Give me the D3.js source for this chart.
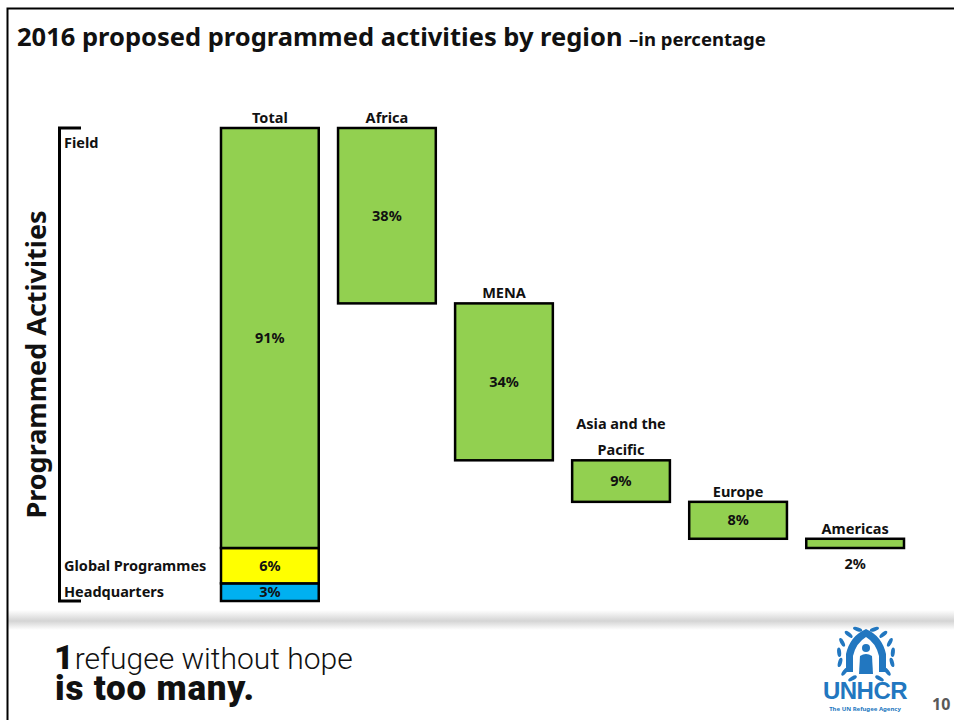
<!DOCTYPE html>
<html lang="en">
<head>
    <meta charset="UTF-8">
    <title>2016 proposed programmed activities by region</title>
    <script src="https://d3js.org/d3.v7.min.js"></script>
    <style>
        body {
            margin: 0;
            background: #fff;
            font-family: "Noto Sans", "Open Sans", sans-serif;
        }
        svg text {
            font-weight: bold;
            fill: #111;
        }
        .bar {
            stroke: #000;
            stroke-width: 2.5;
        }
    </style>
</head>
<body>
    <svg id="chart"></svg>

    <script>
        // data
        var categories = ["Total", "Africa", "MENA", "Asia and the Pacific", "Europe", "Americas"];
        var regions = ["Africa", "MENA", "Asia and the Pacific", "Europe", "Americas"];
        var regionValues = [38, 34, 9, 8, 2];
        var totalParts = ["Headquarters", "Global Programmes", "Field"];
        var totalValues = [3, 6, 91];

        var width = 954, height = 720;

        var svg = d3.select("#chart")
            .attr("width", width)
            .attr("height", height);

        // slide frame
        var defs = svg.append("defs");
        var grad = defs.append("linearGradient")
            .attr("id", "band").attr("x1", 0).attr("y1", 0).attr("x2", 0).attr("y2", 1);
        grad.append("stop").attr("offset", "0%").attr("stop-color", "#fff");
        grad.append("stop").attr("offset", "55%").attr("stop-color", "#d4d4d4");
        grad.append("stop").attr("offset", "100%").attr("stop-color", "#fff");

        svg.append("rect")
            .attr("x", 8).attr("y", 610).attr("width", width - 8).attr("height", 20)
            .attr("fill", "url(#band)");

        svg.append("path")
            .attr("d", "M7.5,720V8.5H954")
            .attr("fill", "none")
            .attr("stroke", "#000")
            .attr("stroke-width", 2);

        // title
        var title = svg.append("text")
            .attr("x", 17).attr("y", 46);
        title.append("tspan").attr("font-size", 25.5).text("2016 proposed programmed activities by region ");
        title.append("tspan").attr("font-size", 18.5).text("–in percentage");

        // scales
        var x = d3.scaleBand()
            .domain(categories)
            .range([221, 904])
            .paddingInner(0.165)
            .paddingOuter(0);

        // the field part is drawn to scale, the two small HQ parts share the base
        var y = d3.scaleLinear()
            .domain([0, 9, 100])
            .range([601, 548, 128]);

        var color = d3.scaleOrdinal()
            .domain(totalParts)
            .range(["#00b0f0", "#ffff00", "#92d050"]);

        // stacked total
        var stack = [];
        var acc = 0;
        totalParts.forEach(function(p, i) {
            stack.push({name: p, y0: acc, y1: acc + totalValues[i], value: totalValues[i]});
            acc += totalValues[i];
        });

        // waterfall of regions, starting from the top of the total
        var water = [];
        var level = acc;
        regions.forEach(function(r, i) {
            water.push({name: r, y0: level - regionValues[i], y1: level, value: regionValues[i]});
            level -= regionValues[i];
        });

        var g = svg.append("g");

        g.selectAll(".total")
            .data(stack)
            .enter().append("rect")
            .attr("class", "bar total")
            .attr("x", x("Total"))
            .attr("y", function(d) { return y(d.y1); })
            .attr("width", x.bandwidth())
            .attr("height", function(d) { return y(d.y0) - y(d.y1); })
            .attr("fill", function(d) { return color(d.name); });

        g.selectAll(".region")
            .data(water)
            .enter().append("rect")
            .attr("class", "bar region")
            .attr("x", function(d) { return x(d.name); })
            .attr("y", function(d) { return y(d.y1); })
            .attr("width", x.bandwidth())
            .attr("height", function(d) { return y(d.y0) - y(d.y1); })
            .attr("fill", color("Field"));

        // value labels
        g.selectAll(".tval")
            .data(stack)
            .enter().append("text")
            .attr("x", x("Total") + x.bandwidth() / 2)
            .attr("y", function(d) { return (y(d.y0) + y(d.y1)) / 2 + 5; })
            .attr("text-anchor", "middle")
            .attr("font-size", 14.5)
            .text(function(d) { return d.value + "%"; });

        g.selectAll(".rval")
            .data(water)
            .enter().append("text")
            .attr("x", function(d) { return x(d.name) + x.bandwidth() / 2; })
            .attr("y", function(d) {
                var h = y(d.y0) - y(d.y1);
                return h < 20 ? y(d.y0) + 21 : (y(d.y0) + y(d.y1)) / 2 + 5;
            })
            .attr("text-anchor", "middle")
            .attr("font-size", 14.5)
            .text(function(d) { return d.value + "%"; });

        // category labels above the bars
        var heads = [{name: "Total", top: 100}].concat(water.map(function(d) { return {name: d.name, top: d.y1}; }));
        heads.forEach(function(d) {
            var lines = d.name === "Asia and the Pacific" ? ["Asia and the", "Pacific"] : [d.name];
            var t = g.append("text")
                .attr("x", x(d.name) + x.bandwidth() / 2)
                .attr("y", y(d.top) - 5 - (lines.length - 1) * 26)
                .attr("text-anchor", "middle")
                .attr("font-size", 14.5);
            lines.forEach(function(l, i) {
                t.append("tspan")
                    .attr("x", x(d.name) + x.bandwidth() / 2)
                    .attr("dy", i ? 26 : 0)
                    .text(l);
            });
        });

        // bracket on the left
        svg.append("path")
            .attr("d", "M81," + y(100) + "H59.5V" + y(0) + "H81")
            .attr("fill", "none")
            .attr("stroke", "#000")
            .attr("stroke-width", 3);

        svg.append("text")
            .attr("x", 64).attr("y", y(100) + 20)
            .attr("font-size", 14.5)
            .text("Field");

        svg.selectAll(".plabel")
            .data(stack.filter(function(d) { return d.name !== "Field"; }))
            .enter().append("text")
            .attr("x", 64)
            .attr("y", function(d) { return (y(d.y0) + y(d.y1)) / 2 + 5; })
            .attr("font-size", 14.5)
            .text(function(d) { return d.name; });

        svg.append("text")
            .attr("transform", "translate(46," + (y(100) + y(0)) / 2 + ") rotate(-90)")
            .attr("text-anchor", "middle")
            .attr("font-size", 27)
            .text("Programmed Activities");

        // footer slogan
        var s1 = svg.append("text")
            .attr("x", 54).attr("y", 669)
            .style("font-family", "Roboto, 'Liberation Sans', sans-serif");
        s1.append("tspan").attr("font-size", 34).style("font-weight", 900).text("1");
        s1.append("tspan").attr("font-size", 30).style("font-weight", 300).attr("dx", 1).text("refugee without hope");
        svg.append("text")
            .attr("x", 55).attr("y", 700)
            .style("font-family", "Roboto, 'Liberation Sans', sans-serif")
            .style("font-weight", 900)
            .attr("font-size", 35)
            .attr("letter-spacing", 0.8)
            .text("is too many.");

        // UNHCR logo (simplified)
        var logo = svg.append("g").attr("fill", "#2277c0").attr("stroke", "none");
        logo.append("path")
            .attr("d", "M846,672 L846,654 Q850,636 866,629 Q882,636 886,654 L886,672 L879,672 L879,656 Q876,643 866,637 Q856,643 853,656 L853,672 Z");
        logo.append("circle").attr("cx", 866).attr("cy", 648).attr("r", 4);
        logo.append("path")
            .attr("d", "M859,674 L860,656 Q866,652 872,656 L873,674 Z");
        [-1, 1].forEach(function(side) {
            for (var k = 0; k < 7; k++) {
                var a = (-60 + k * 22) * Math.PI / 180;
                var cx = 866 + side * 27 * Math.cos(a);
                var cy = 655 - 27 * Math.sin(a);
                logo.append("ellipse")
                    .attr("cx", cx).attr("cy", cy)
                    .attr("rx", 2).attr("ry", 4.8)
                    .attr("transform", "rotate(" + (side * (k * 22 - 60)) + "," + cx + "," + cy + ")");
            }
        });
        logo.append("text")
            .attr("x", 865).attr("y", 699)
            .attr("text-anchor", "middle")
            .attr("font-size", 24)
            .attr("letter-spacing", -0.5)
            .style("fill", "#2277c0")
            .style("font-family", "'Liberation Sans', sans-serif")
            .style("font-weight", 900)
            .text("UNHCR");
        logo.append("text")
            .attr("x", 865).attr("y", 711)
            .attr("text-anchor", "middle")
            .attr("font-size", 6)
            .style("fill", "#2277c0")
            .text("The UN Refugee Agency");

        svg.append("text")
            .attr("x", 932).attr("y", 710)
            .attr("font-size", 16)
            .style("fill", "#595959")
            .text("10");
    </script>
</body>
</html>
